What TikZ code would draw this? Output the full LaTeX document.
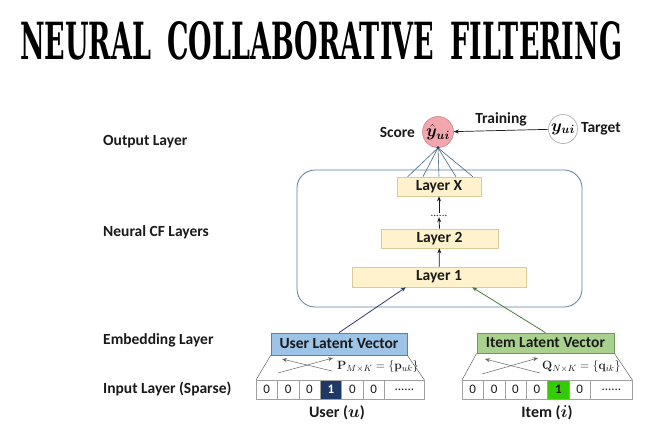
\documentclass[tikz,border=0pt]{standalone}
\usepackage[no-math]{fontspec}
\usepackage{amsmath,bm}
\setmainfont{Carlito}
\newfontfamily\titlefont{DejaVu Serif}
\usetikzlibrary{arrows.meta,calc}
\definecolor{scorepink}{HTML}{F4A6AE}
\definecolor{scorered}{HTML}{C0505A}
\definecolor{boxblue}{HTML}{5A7FA3}
\definecolor{layerfill}{HTML}{FFF2CC}
\definecolor{layerborder}{HTML}{D9CB9A}
\definecolor{userblue}{HTML}{9DC3E6}
\definecolor{userborder}{HTML}{5B7FA8}
\definecolor{itemgreen}{HTML}{A9D18E}
\definecolor{itemborder}{HTML}{6F9A55}
\definecolor{navycell}{HTML}{1F3864}
\definecolor{greencell}{HTML}{33CC00}
\definecolor{cellgray}{HTML}{A0A0A0}
\definecolor{userarrow}{HTML}{2E3A6E}
\definecolor{itemarrow}{HTML}{4A7A3A}
\definecolor{txt}{HTML}{1A1A1A}
\begin{document}
\begin{tikzpicture}[x=1pt,y=-1pt,
  lbl/.style={font=\fontsize{15.5}{17}\selectfont\bfseries, text=txt, inner sep=0pt},
  layerbox/.style={draw=layerborder, fill=layerfill, font=\fontsize{15.5}{17}\selectfont\bfseries, text=txt, minimum height=19pt, inner sep=0pt, line width=0.6pt},
  latent/.style={font=\fontsize{15.5}{17}\selectfont\bfseries, text=txt, inner sep=0pt, line width=0.7pt},
  cell/.style={draw=cellgray, minimum width=21.4pt, minimum height=19pt, inner sep=0pt, outer sep=0pt, font=\fontsize{13}{14}\selectfont, text=txt, anchor=west, line width=0.6pt},
  dotcell/.style={cell, minimum width=40pt},
  tip/.style={-{Stealth[length=5pt,width=4pt]}},
  thin/.style={draw=gray!80!black, line width=0.5pt},
  mathlbl/.style={anchor=west, inner sep=0pt, text=txt, font=\fontsize{13}{15}\selectfont}
]
\useasboundingbox (0,0) rectangle (663,434);
\fill[white] (0,0) rectangle (663,434);

% title
\node[anchor=north west, inner sep=0pt] (title) at (20,21)
  {\resizebox{602pt}{38pt}{\titlefont\bfseries NEURAL\hspace{0.6em}COLLABORATIVE\hspace{0.6em}FILTERING}};

% left labels
\node[lbl, anchor=west] (lout) at (103,142) {Output Layer};
\node[lbl, anchor=west] (lncf) at (103,232) {Neural CF Layers};
\node[lbl, anchor=west] (lemb) at (103,340) {Embedding Layer};
\node[lbl, anchor=west] (linp) at (103,389) {Input Layer (Sparse)};

% neural CF box
\node[draw=boxblue, rounded corners=18pt, line width=0.8pt, minimum width=285pt, minimum height=137pt, inner sep=0pt] (ncf) at (439.5,238.5) {};

% score and target
\node[circle, minimum size=31pt, inner sep=0pt, fill=scorepink, draw=scorered!70, line width=0.6pt, font=\fontsize{17}{19}\selectfont] (score) at (438,132) {$\hat{\bm{y}}_{\bm{ui}}$};
\node[lbl, anchor=east] (scorelbl) at ($(score.west)+(-7,0)$) {Score};
\node[circle, minimum size=29pt, inner sep=0pt, fill=white, draw=gray!70, line width=0.6pt, font=\fontsize{17}{19}\selectfont] (target) at (563,129) {$\bm{y}_{\bm{ui}}$};
\node[lbl, anchor=west] (targetlbl) at ($(target.east)+(3,0)$) {Target};
\draw[tip, line width=0.7pt, txt] (target) -- node[lbl, above=4pt] (train) {Training} (score);

% layers
\node[layerbox, minimum width=84pt] (LX) at (439,186.5) {Layer X};
\node[layerbox, minimum width=117pt] (L2) at (439.5,238.5) {Layer 2};
\node[layerbox, minimum width=174pt, minimum height=20pt] (L1) at (439,277) {Layer 1};
\node[inner sep=0.5pt, font=\fontsize{11}{11}\selectfont, text=txt, text height=3pt, text depth=0pt] (dots) at (439,215) {......};
\draw[tip, line width=0.8pt, txt] (L1) -- (L2);
\draw[tip, line width=0.8pt, txt] (L2.north) -- (dots.south);
\draw[tip, line width=0.8pt, txt] (dots.north) -- (LX.south);

% fan lines
\path (LX.north west) -- (LX.north east)
  coordinate[pos=0.13] (f1) coordinate[pos=0.31] (f2) coordinate[pos=0.5] (f3)
  coordinate[pos=0.70] (f4) coordinate[pos=0.90] (f5);
\foreach \f in {f1,f2,f3,f4,f5} \draw[draw=boxblue!80!black, line width=0.6pt] (score.south) -- (\f);
\fill[navycell] (score.south) circle (1.6pt);

% user side
\node[latent, draw=userborder, fill=userblue, minimum width=136pt, minimum height=22pt] (ulv) at (339,344) {User Latent Vector};
\node[cell] (u1) at (256,389.5) {0};
\node[cell] (u2) at (u1.east) {0};
\node[cell] (u3) at (u2.east) {0};
\node[cell, fill=navycell, text=white, font=\fontsize{13}{14}\selectfont\bfseries] (u4) at (u3.east) {1};
\node[cell] (u5) at (u4.east) {0};
\node[cell] (u6) at (u5.east) {0};
\node[dotcell] (u7) at (u6.east) {......};
\draw[thin] (ulv.south west) -- (u1.north west);
\draw[thin] (ulv.south east) -- (u7.north east);
\coordinate (ua1) at (278,373); \coordinate (ua2) at (333,358);
\coordinate (ub1) at (332,371); \coordinate (ub2) at (282,359);
\draw[tip, thin] (ua1) -- (ua2);
\draw[tip, thin] (ub1) -- (ub2);
\node[mathlbl] (plbl) at (337,366) {$\mathbf{P}_{M\times K}=\{\mathbf{p}_{uk}\}$};
\node[lbl, font=\fontsize{16}{18}\selectfont\bfseries] (ulbl) at (337,413) {User ($\bm{u}$)};

% item side
\node[latent, draw=itemborder, fill=itemgreen, minimum width=137pt, minimum height=20pt] (ilv) at (545.5,343) {Item Latent Vector};
\node[cell] (i1) at (462,389.5) {0};
\node[cell] (i2) at (i1.east) {0};
\node[cell] (i3) at (i2.east) {0};
\node[cell] (i4) at (i3.east) {0};
\node[cell, fill=greencell, font=\fontsize{13}{14}\selectfont\bfseries] (i5) at (i4.east) {1};
\node[cell] (i6) at (i5.east) {0};
\node[dotcell, minimum width=42pt] (i7) at (i6.east) {......};
\draw[thin] (ilv.south west) -- (i1.north west);
\draw[thin] (ilv.south east) -- (i7.north east);
\coordinate (ia1) at (482,374); \coordinate (ia2) at (538,358);
\coordinate (ib1) at (540,373); \coordinate (ib2) at (485,359);
\draw[tip, thin] (ia1) -- (ia2);
\draw[tip, thin] (ib1) -- (ib2);
\node[mathlbl] (qlbl) at (542,366) {$\mathbf{Q}_{N\times K}=\{\mathbf{q}_{ik}\}$};
\node[lbl, font=\fontsize{16}{18}\selectfont\bfseries] (ilbl) at (547,413) {Item ($\bm{i}$)};

% embedding to layer 1
\draw[tip, userarrow, line width=0.8pt] (ulv.north) -- ($(L1.south west)!0.31!(L1.south east)$);
\draw[tip, itemarrow, line width=0.8pt] (ilv.north) -- ($(L1.south west)!0.69!(L1.south east)$);
\end{tikzpicture}
\end{document}
